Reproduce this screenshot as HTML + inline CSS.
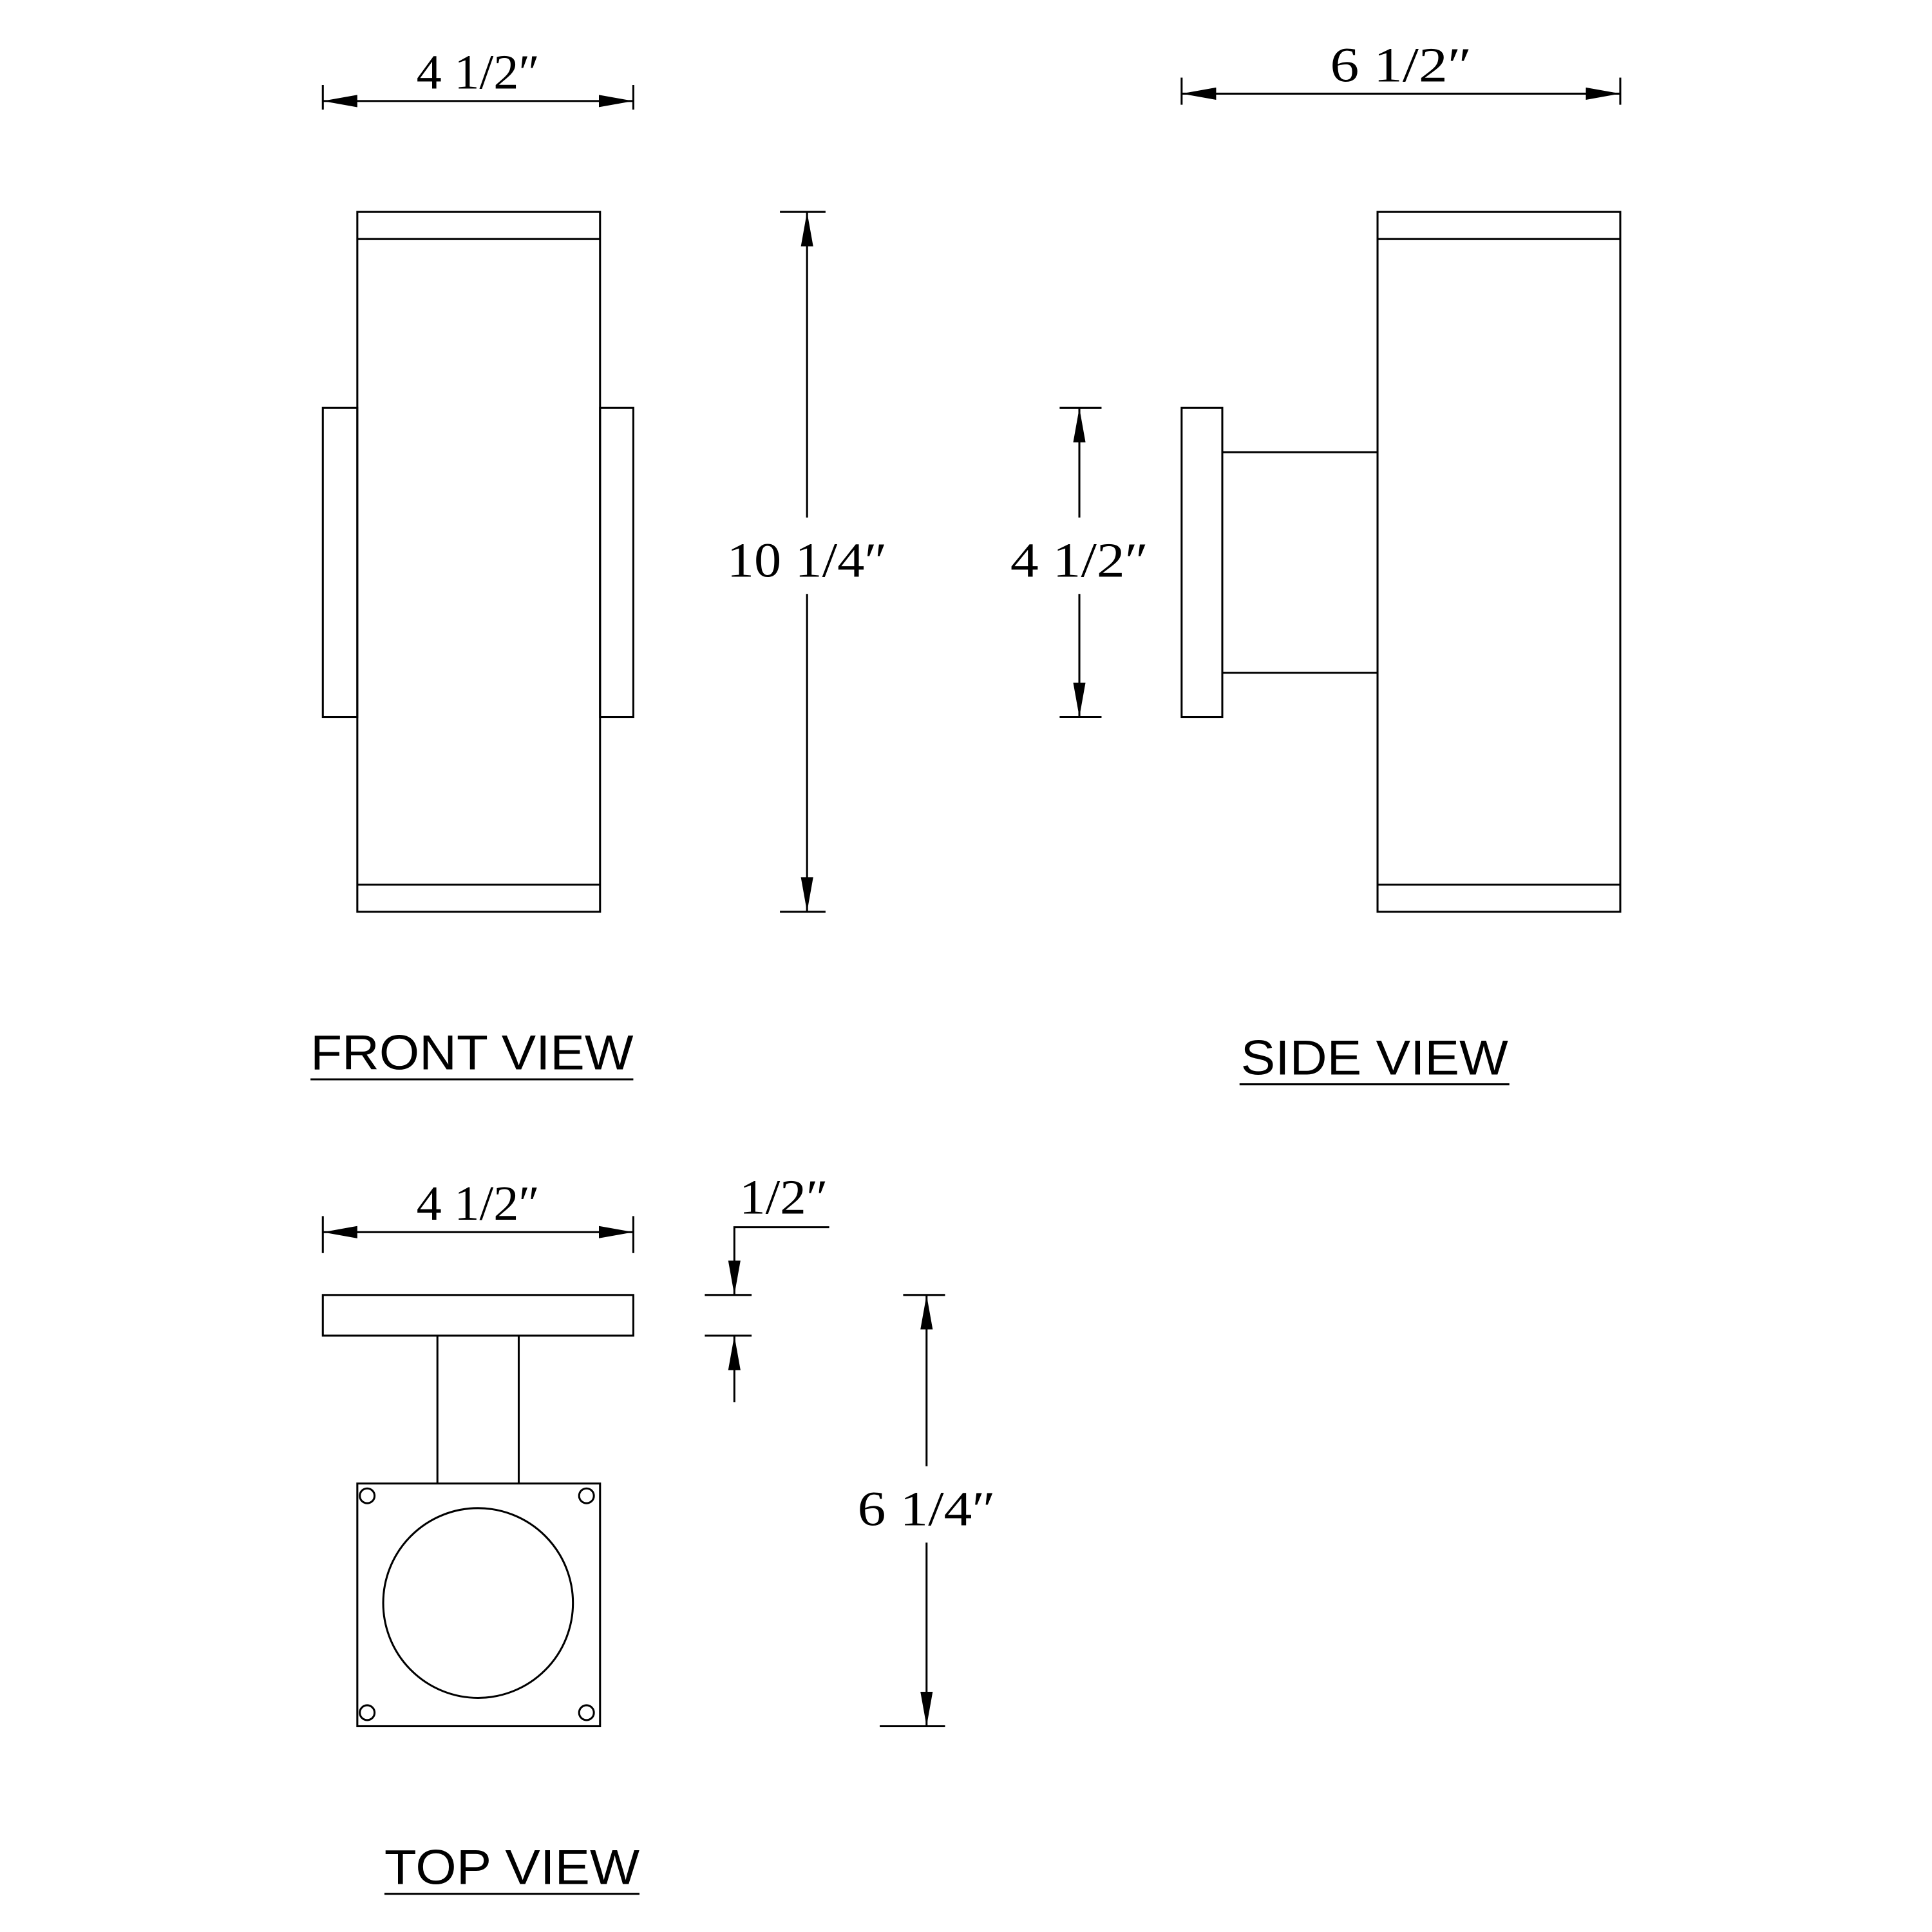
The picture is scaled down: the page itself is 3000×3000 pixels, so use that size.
<!DOCTYPE html>
<html><head><meta charset="utf-8"><style>html,body{margin:0;padding:0;background:#fff}svg{display:block}</style></head>
<body>
<svg width="3000" height="3000" viewBox="0 0 1568 1568" xmlns="http://www.w3.org/2000/svg">
<defs>
<marker id="a" viewBox="0 0 28 10" refX="28" refY="5" markerWidth="28" markerHeight="10" markerUnits="userSpaceOnUse" orient="auto-start-reverse"><path d="M0,0L28,5L0,10Z" fill="#000"/></marker>
</defs>
<g fill="none" stroke="#000" stroke-width="1.6">
<line x1="262" y1="69" x2="262" y2="89"/><line x1="514" y1="69" x2="514" y2="89"/>
<line x1="262" y1="82" x2="514" y2="82" marker-start="url(#a)" marker-end="url(#a)"/>
<rect x="290" y="172" width="197" height="568"/>
<line x1="290" y1="194" x2="487" y2="194"/><line x1="290" y1="718" x2="487" y2="718"/>
<rect x="262" y="331" width="28" height="251"/><rect x="487" y="331" width="27" height="251"/>
<line x1="633" y1="172" x2="670" y2="172"/><line x1="633" y1="740" x2="670" y2="740"/>
<line x1="655" y1="420" x2="655" y2="172" marker-end="url(#a)"/>
<line x1="655" y1="482" x2="655" y2="740" marker-end="url(#a)"/>
<line x1="252" y1="876" x2="514" y2="876"/>
<line x1="959" y1="63" x2="959" y2="85"/><line x1="1315" y1="63" x2="1315" y2="85"/>
<line x1="959" y1="76" x2="1315" y2="76" marker-start="url(#a)" marker-end="url(#a)"/>
<rect x="1118" y="172" width="197" height="568"/>
<line x1="1118" y1="194" x2="1315" y2="194"/><line x1="1118" y1="718" x2="1315" y2="718"/>
<rect x="959" y="331" width="33" height="251"/>
<line x1="992" y1="367" x2="1118" y2="367"/><line x1="992" y1="546" x2="1118" y2="546"/>
<line x1="860" y1="331" x2="894" y2="331"/><line x1="860" y1="582" x2="894" y2="582"/>
<line x1="876" y1="420" x2="876" y2="331" marker-end="url(#a)"/>
<line x1="876" y1="482" x2="876" y2="582" marker-end="url(#a)"/>
<line x1="1006" y1="880" x2="1225" y2="880"/>
<line x1="262" y1="987" x2="262" y2="1017"/><line x1="514" y1="987" x2="514" y2="1017"/>
<line x1="262" y1="1000" x2="514" y2="1000" marker-start="url(#a)" marker-end="url(#a)"/>
<rect x="262" y="1051" width="252" height="33"/>
<line x1="355" y1="1084" x2="355" y2="1204"/><line x1="421" y1="1084" x2="421" y2="1204"/>
<rect x="290" y="1204" width="197" height="197"/>
<circle cx="388" cy="1301" r="77"/>
<circle cx="298" cy="1214" r="6"/><circle cx="476" cy="1214" r="6"/>
<circle cx="298" cy="1390" r="6"/><circle cx="476" cy="1390" r="6"/>
<line x1="572" y1="1051" x2="610" y2="1051"/><line x1="572" y1="1084" x2="610" y2="1084"/>
<polyline points="673,996 596,996 596,1051" marker-end="url(#a)"/>
<line x1="596" y1="1138" x2="596" y2="1084" marker-end="url(#a)"/>
<line x1="733" y1="1051" x2="767" y2="1051"/><line x1="714" y1="1401" x2="767" y2="1401"/>
<line x1="752" y1="1190" x2="752" y2="1051" marker-end="url(#a)"/>
<line x1="752" y1="1252" x2="752" y2="1401" marker-end="url(#a)"/>
<line x1="312" y1="1537" x2="519" y2="1537"/>
</g>
<g font-family="'Liberation Serif', serif" font-size="40" fill="#000" text-anchor="middle">
<text x="388" y="72" textLength="100" lengthAdjust="spacingAndGlyphs">4 1/2″</text>
<text x="1137" y="66" textLength="115" lengthAdjust="spacingAndGlyphs">6 1/2″</text>
<text x="655" y="468" textLength="130" lengthAdjust="spacingAndGlyphs">10 1/4″</text>
<text x="876" y="468" textLength="112" lengthAdjust="spacingAndGlyphs">4 1/2″</text>
<text x="388" y="990" textLength="100" lengthAdjust="spacingAndGlyphs">4 1/2″</text>
<text x="636" y="985" textLength="72" lengthAdjust="spacingAndGlyphs">1/2″</text>
<text x="752" y="1238" textLength="112" lengthAdjust="spacingAndGlyphs">6 1/4″</text>
</g>
<g font-family="'Liberation Sans', sans-serif" font-size="40" fill="#000">
<text x="252" y="868" textLength="262" lengthAdjust="spacingAndGlyphs">FRONT  VIEW</text>
<text x="1007" y="872" textLength="217" lengthAdjust="spacingAndGlyphs">SIDE  VIEW</text>
<text x="312" y="1529" textLength="207" lengthAdjust="spacingAndGlyphs">TOP  VIEW</text>
</g>
</svg>
</body></html>
